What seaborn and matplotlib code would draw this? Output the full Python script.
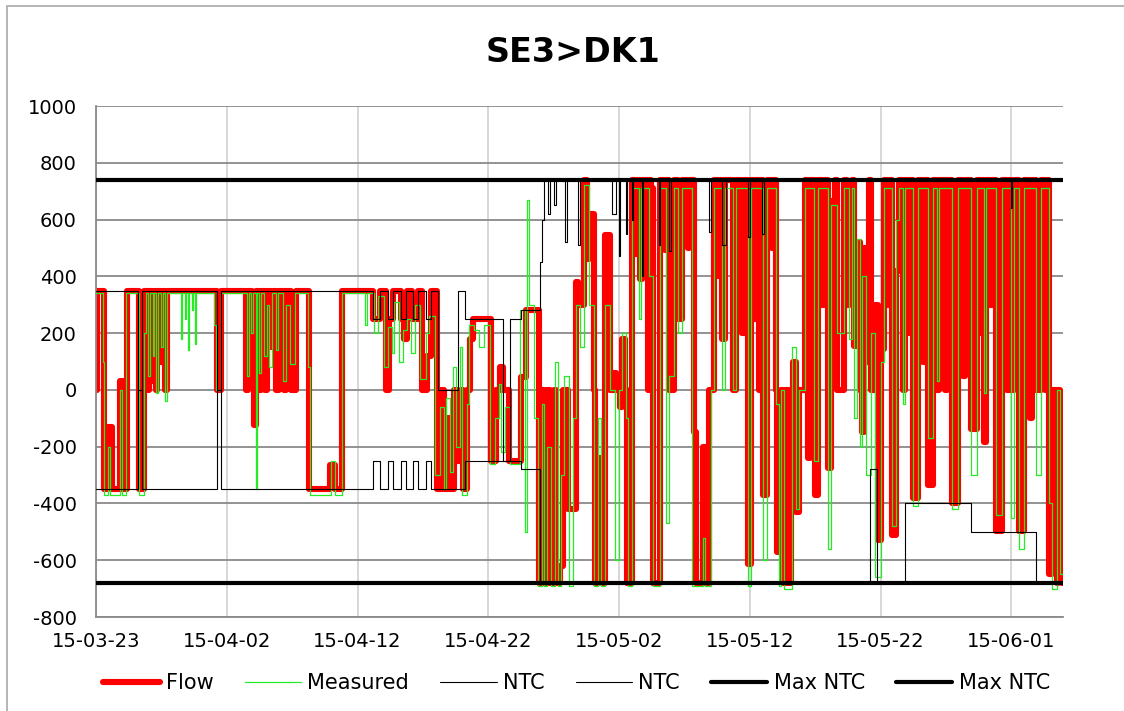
import matplotlib
matplotlib.use("Agg")
import matplotlib.pyplot as plt
import matplotlib.dates as mdates
import pandas as pd
import seaborn as sns

# ------------------------------------------------------------------
# Data: (day offset from 2015-03-23, MW) at each change of value
# ------------------------------------------------------------------
START = pd.Timestamp("2015-03-23")
END_DAY = 73.95

flow_steps = [
    (0.00, 0), (0.05, 350), (0.65, -350), (0.90, -130), (1.20, -350),
    (1.80, 30), (2.05, -350), (2.35, 350), (3.30, -350), (3.70, 350),
    (3.95, 0), (4.05, 350), (4.30, 30), (4.45, 350), (4.60, 0),
    (4.70, 350), (4.95, 100), (5.10, 350), (5.25, 0), (5.40, 350),
    (9.25, 0), (9.55, 350), (11.50, 0), (11.65, 350), (11.90, 100),
    (12.05, -125), (12.20, 350), (12.45, 0), (12.60, 350), (12.90, 0),
    (13.05, 350), (13.30, 150), (13.50, 350), (13.80, 0), (14.00, 350),
    (14.40, 0), (14.55, 350), (14.90, 0), (15.30, 350), (16.30, -350),
    (17.90, -265), (18.30, -350), (18.85, 350), (21.20, 250), (21.70, 350),
    (22.20, 0), (22.40, 250), (22.70, 350), (23.35, 250), (23.55, 180),
    (23.75, 350), (24.20, 250), (24.60, 350), (24.90, 0), (25.30, 120),
    (25.60, 350), (26.05, -350), (26.40, 0), (26.60, -350), (26.90, -100),
    (27.10, -350), (27.40, 0), (27.60, -250), (27.90, 0), (28.10, -350),
    (28.40, 0), (28.60, 180), (28.80, 250), (30.20, -250), (30.60, 0),
    (30.90, 80), (31.15, 0), (31.60, -250), (32.50, 45), (32.90, 280),
    (33.85, -680), (34.10, 0), (34.25, -680), (34.50, 0), (34.70, -680),
    (35.00, 0), (35.20, -680), (35.50, -620), (35.70, 0), (36.10, -420),
    (36.70, 380), (36.90, 300), (37.30, 740), (37.55, 460), (37.70, 620),
    (38.05, 0), (38.20, -680), (38.40, -240), (38.70, -680), (38.95, 545),
    (39.30, 0), (39.60, 60), (39.75, 0), (40.05, -60), (40.20, 180),
    (40.45, 0), (40.60, -680), (41.00, 740), (41.25, 480), (41.35, 740),
    (41.60, 390), (41.75, 740), (42.20, 0), (42.30, 740), (42.45, 710),
    (42.60, -680), (43.10, 740), (43.50, 493), (43.60, 740), (43.85, 0),
    (44.20, 740), (44.50, 250), (44.85, 740), (45.25, 500), (45.35, 740),
    (45.70, -150), (45.90, -680), (46.40, -200), (46.60, -680), (46.85, 0),
    (47.30, 740), (47.60, 400), (47.70, 740), (47.90, 180), (48.10, 740),
    (48.70, 0), (48.95, 740), (49.15, 400), (49.25, 740), (49.40, 200),
    (49.55, 740), (49.85, -615), (50.10, 740), (50.35, 250), (50.50, 740),
    (50.70, 0), (50.80, 740), (51.00, -370), (51.30, 740), (51.70, 500),
    (51.80, 740), (52.00, 0), (52.10, -570), (52.35, 0), (52.55, -680),
    (52.80, 0), (52.95, -680), (53.15, 0), (53.30, 100), (53.50, -430),
    (53.75, 0), (54.25, 740), (54.45, -240), (54.60, 740), (54.95, -370),
    (55.20, 740), (55.55, 300), (55.65, 740), (55.95, -276), (56.20, 667),
    (56.50, 740), (56.70, 0), (57.20, 740), (57.45, 300), (57.60, 600),
    (57.80, 740), (58.00, 155), (58.20, 520), (58.40, 0), (58.60, -150),
    (58.75, 500), (58.90, 100), (59.10, 740), (59.30, 0), (59.55, 300),
    (59.80, -530), (60.00, 143), (60.30, 740), (60.60, 300), (60.70, 740),
    (60.90, -510), (61.20, 420), (61.40, 740), (61.70, 0), (61.90, 740),
    (62.20, 200), (62.30, 740), (62.50, -380), (62.90, 740), (63.25, 100),
    (63.40, 740), (63.60, -335), (64.00, 740), (64.30, 0), (64.50, 740),
    (64.90, 0), (65.05, 740), (65.50, -400), (65.90, 740), (66.30, 50),
    (66.45, 740), (66.90, -136), (67.40, 740), (67.65, 200), (67.75, 740),
    (67.90, -183), (68.10, 740), (68.40, 300), (68.50, 740), (68.80, -498),
    (69.30, 740), (69.65, 0), (69.80, 740), (70.00, 0), (70.20, 740),
    (70.60, -498), (70.95, 740), (71.40, -100), (71.55, 740), (71.90, 0),
    (72.30, 740), (72.60, 0), (72.75, 740), (72.90, -650), (73.10, 0),
    (73.50, -680), (73.60, 0), (73.70, -370), (73.90, -680), (73.95, -680),
]

measured_steps = [
    (0.00, 340), (0.55, 100), (0.65, -370), (0.95, -200), (1.10, -370),
    (1.80, 0), (2.00, -370), (2.30, 340), (3.30, -370), (3.70, 200),
    (3.80, 340), (4.00, 50), (4.10, 340), (4.35, 120), (4.45, 340),
    (4.60, -10), (4.75, 340), (5.00, 150), (5.15, 340), (5.30, -40),
    (5.40, 340), (6.50, 180), (6.60, 340), (6.80, 250), (6.90, 340),
    (7.05, 140), (7.15, 340), (7.35, 280), (7.45, 340), (7.55, 160),
    (7.65, 340), (9.05, 230), (9.20, 0), (9.55, 340), (11.55, 50),
    (11.70, 340), (11.85, 200), (12.00, 340), (12.25, -350), (12.35, 340),
    (12.50, 60), (12.65, 340), (12.85, 120), (13.05, 300), (13.25, 80),
    (13.45, 340), (13.75, 140), (13.95, 340), (14.30, 30), (14.55, 300),
    (14.85, 90), (15.25, 340), (16.20, 80), (16.35, -370), (17.95, -250),
    (18.25, -370), (18.85, 340), (20.60, 230), (20.70, 340), (21.25, 200),
    (21.60, 330), (22.00, 80), (22.30, 220), (22.60, 130), (22.80, 310),
    (23.20, 100), (23.50, 210), (23.80, 250), (24.10, 130), (24.40, 300),
    (24.80, 40), (25.20, 200), (25.50, 260), (25.90, -300), (26.30, -60),
    (26.60, -350), (26.80, -30), (27.10, -290), (27.30, 80), (27.50, -200),
    (27.80, 150), (28.00, -370), (28.40, -50), (28.55, 230), (28.90, 210),
    (29.30, 150), (29.70, 230), (30.10, -260), (30.50, -100), (30.80, 20),
    (31.00, -220), (31.30, -60), (31.65, -260), (32.45, 280), (32.80, -500),
    (32.95, 670), (33.10, 300), (33.50, -100), (33.80, -690), (34.10, -50),
    (34.30, -690), (34.50, -200), (34.80, -690), (35.10, 100), (35.30, -690),
    (35.60, -300), (35.80, 50), (36.20, -690), (36.50, -100), (36.70, 300),
    (37.00, 150), (37.30, 720), (37.70, 300), (38.05, -690), (38.40, -100),
    (38.60, -690), (38.90, 300), (39.30, 0), (39.70, -600), (40.00, 0),
    (40.25, 200), (40.50, -100), (40.70, -690), (41.00, 710), (41.50, 250),
    (41.70, 710), (42.30, 400), (42.60, -690), (43.10, 710), (43.60, -470),
    (43.80, 50), (44.20, 710), (44.50, 200), (44.80, 710), (45.60, -690),
    (46.40, -520), (46.60, -690), (47.00, 0), (47.30, 710), (47.90, 0),
    (48.10, 710), (48.70, 0), (48.95, 710), (49.90, -690), (50.10, 710),
    (51.00, -600), (51.30, 710), (52.00, -50), (52.20, -690), (52.40, 0),
    (52.60, -700), (53.20, 150), (53.50, -420), (53.75, 0), (54.25, 710),
    (54.90, -250), (55.20, 710), (56.00, -560), (56.20, 650), (56.70, 200),
    (57.20, 710), (57.60, 180), (57.80, 710), (58.00, -100), (58.20, 530),
    (58.40, -200), (58.60, 400), (58.90, -300), (59.30, 200), (59.60, -660),
    (60.00, 100), (60.30, 710), (60.90, -480), (61.20, 600), (61.40, 710),
    (61.70, -50), (61.90, 710), (62.50, -410), (62.90, 710), (63.60, -170),
    (64.00, 710), (64.30, 30), (64.50, 710), (65.50, -420), (65.90, 710),
    (66.90, -300), (67.40, 710), (67.90, -10), (68.10, 710), (68.80, -440),
    (69.30, 710), (70.00, -450), (70.20, 710), (70.60, -560), (70.95, 710),
    (71.90, -300), (72.30, 710), (72.90, -400), (73.10, -700), (73.50, 0),
    (73.70, -650), (73.95, -650),
]

ntc_pos_steps = [
    (0.00, 350), (3.23, 0), (3.49, 350), (9.27, 0), (9.55, 350),
    (21.19, 250), (21.70, 350), (22.33, 250), (22.71, 350), (23.35, 250),
    (23.73, 350), (24.24, 250), (24.62, 350), (25.26, 250), (25.64, 350),
    (26.15, 0), (27.68, 350), (28.19, 250), (31.12, -250), (31.63, 250),
    (32.52, 280), (33.92, 450), (34.10, 600), (34.30, 740), (34.55, 620),
    (34.75, 740), (35.00, 650), (35.15, 740), (35.85, 520), (36.05, 740),
    (36.85, 510), (37.00, 740), (39.50, 620), (39.75, 740), (40.00, 470),
    (40.10, 740), (40.50, 550), (40.60, 740), (41.00, 600), (41.10, 740),
    (41.75, 400), (41.85, 740), (43.05, 510), (43.15, 740), (43.85, 490),
    (43.95, 740), (46.90, 556), (47.00, 740), (47.90, 510), (48.15, 740),
    (49.90, 540), (50.05, 740), (50.90, 550), (51.05, 740), (69.95, 640),
    (70.05, 740), (73.95, 740),
]

ntc_neg_steps = [
    (0.00, -350), (3.23, 0), (3.49, -350), (9.27, 0), (9.55, -350),
    (21.19, -250), (21.70, -350), (22.33, -250), (22.71, -350), (23.35, -250),
    (23.73, -350), (24.24, -250), (24.62, -350), (25.26, -250), (25.64, -350),
    (28.19, -250), (32.52, -280), (33.92, -680), (59.20, -280), (59.70, -680),
    (61.90, -400), (66.90, -500), (71.90, -680), (73.95, -680),
]

max_ntc_pos_steps = [(0.00, 740), (73.95, 740)]
max_ntc_neg_steps = [(0.00, -680), (73.95, -680)]


def _frame(steps):
    df = pd.DataFrame(steps, columns=["day", "mw"])
    df["date"] = START + pd.to_timedelta(df["day"], unit="D")
    return df


# ------------------------------------------------------------------
# Plot
# ------------------------------------------------------------------
sns.set_style("white")
plt.rcParams["font.family"] = ["DejaVu Sans"]
plt.rcParams["axes.unicode_minus"] = False
plt.rcParams["text.color"] = "black"
plt.rcParams["xtick.labelcolor"] = "black"
plt.rcParams["ytick.labelcolor"] = "black"

fig = plt.figure(figsize=(11.24, 7.11), dpi=100)
ax = fig.add_axes([0.0854, 0.1322, 0.8603, 0.7187])

series = [
    (flow_steps, "Flow", "#ff0000", 4.4, 2),
    (measured_steps, "Measured", "#22ee22", 0.9, 3),
    (ntc_pos_steps, "NTC", "#000000", 0.8, 4),
    (ntc_neg_steps, "NTC", "#000000", 0.8, 4),
    (max_ntc_pos_steps, "Max NTC", "#000000", 3.0, 5),
    (max_ntc_neg_steps, "Max NTC", "#000000", 3.0, 5),
]
for steps, label, color, lw, z in series:
    sns.lineplot(data=_frame(steps), x="date", y="mw", ax=ax,
                 estimator=None, sort=False, drawstyle="steps-post",
                 color=color, linewidth=lw, label=label, zorder=z)

ax.set_xlim(START, START + pd.Timedelta(days=END_DAY))
ax.set_ylim(-800, 1000)
ax.set_yticks(range(-800, 1001, 200))
ax.set_xticks(pd.date_range(START, periods=8, freq="10D"))
ax.xaxis.set_major_formatter(mdates.DateFormatter("%y-%m-%d"))
ax.set_xlabel("")
ax.set_ylabel("")

ax.grid(axis="y", color="#8a8a8a", linewidth=1.3)
ax.grid(axis="x", color="#d4d4d4", linewidth=1.3)
ax.set_axisbelow(True)
for side in ("top", "right"):
    ax.spines[side].set_visible(False)
for side in ("left", "bottom"):
    ax.spines[side].set_color("#8a8a8a")
    ax.spines[side].set_linewidth(1.3)
ax.tick_params(axis="y", labelsize=14, length=5, width=1.3,
               color="#8a8a8a", labelcolor="black", direction="out", pad=9)
ax.tick_params(axis="x", labelsize=14, length=0, labelcolor="black", pad=11)

fig.text(0.51, 0.9255, "SE3>DK1", ha="center", va="center",
         fontsize=24, fontweight="bold", color="black")

handles, labels = ax.get_legend_handles_labels()
ax.get_legend().remove()
leg = fig.legend(handles, labels, loc="center", bbox_to_anchor=(0.513, 0.039),
                 ncol=6, frameon=False, fontsize=15, handlelength=2.7,
                 handletextpad=0.3, columnspacing=1.5)
for txt in leg.get_texts():
    txt.set_color("black")

fig.add_artist(plt.Rectangle((0.0062, -0.05), 1.0, 1.0416,
                             transform=fig.transFigure, fill=False,
                             edgecolor="#a8a8a8", linewidth=1.2))

fig.savefig("out.png", dpi=100)
